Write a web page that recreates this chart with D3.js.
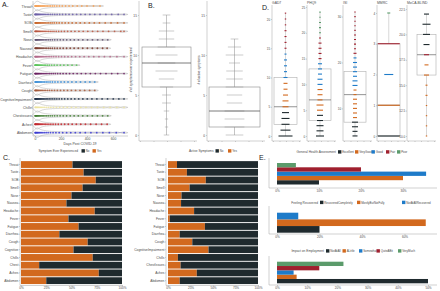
<!DOCTYPE html>
<html><head><meta charset="utf-8">
<script src="https://cdn.jsdelivr.net/npm/d3@7"></script>
<style>body{margin:0;background:#fff}svg{display:block;font-family:"Liberation Sans",Arial,sans-serif}</style>
</head><body>
<svg id="c" width="440" height="291"></svg>
<script>
// ================= DATA =================
// Panel A: days post COVID-19 at which each symptom was reported
const symptomsA = ["Throat","Taste","SOB","Smell","Nose","Nausea","Headache","Fever","Fatigue","Diarrhea","Cough","CognitiveImpairment","Chills","Chestissues","Aches","Abdomen"];
const colorsA = ["#f4a259","#6c5fa7","#c8652a","#b8553f","#5c4d6e","#7a3b2e","#b3688a","#5cc45c","#6a2060","#3f8fd6","#a3583a","#1f3048","#ebe3a0","#3d7a2e","#c1272d","#3a3ad0"];
const daysThroat = [0,3,6,9,12,16,20,25,30,36,42,50,58,66,75,85,96,108,120,135,150,168,188,210,235,262,290,325,360,400,450,500];
const daysTaste = [0,2,5,8,12,15,19,24,29,35,41,48,56,64,73,83,94,106,120,135,152,170,190,212,236,262,290,320,352,386,422,460,500,545,590,640,685];
const daysSOB = [1,4,7,10,14,18,23,28,34,40,47,55,63,72,82,93,105,118,132,148,166,186,208,232,258,286,316,348,382,418,456,496,540,585,635,685];
const daysSmell = [0,3,6,10,13,17,22,27,33,39,46,54,62,71,81,92,104,117,131,146,163,182,203,226,251,278,307,338,371,406,443,482,523,566,612,660,685];
const daysNose = [2,5,9,13,17,22,28,34,41,49,58,68,79,91,104,118,134,152,172,194,218,244,272,302,334,368,404,442,482,520,560];
const daysNausea = [1,4,8,12,16,21,27,33,40,48,57,67,78,90,103,117,133,151,171,193,217,243,271,301,333,367,403,441,480,520,555];
const daysHeadache = [0,3,6,9,13,17,21,26,31,37,44,51,59,68,78,89,101,114,128,144,162,182,204,228,254,282,312,344,378,414,452,492,534,578,630,685];
const daysFever = [0,2,4,7,10,13,17,21,26,31,37,44,52,61,71,82,95,110,128,148,170,195,222,252,285,320];
const daysFatigue = [0,2,4,7,10,13,17,21,25,30,35,41,47,54,62,70,79,89,100,112,125,140,156,174,194,216,240,266,294,324,356,390,426,464,504,546,590,636,685];
const daysDiarrhea = [1,4,8,12,17,22,28,35,43,52,62,73,86,100,116,134,154,176,200,226,254,284,316,350,386,422,460];
const daysCough = [0,3,6,10,14,19,25,32,40,49,59,70,82,96,112,130,150,172,196,222,250,280,312,346,382,420,460];
const daysCognitive = [0,2,5,8,11,15,19,23,28,33,39,45,52,60,68,77,87,98,110,123,137,152,168,186,206,228,252,278,306,336,368,402,438,476,516,558,602,645,685];
const daysChills = [1,4,8,12,17,22,28,35,43,52,62,74,88,104,122,142,165,190,218,248,280,315,352,392,435,480,528,578,630,685];
const daysChest = [0,3,7,11,15,20,26,32,39,47,56,66,77,89,102,117,133,151,171,193,217,243,271,301,333,367,403,441,480,520,560];
const daysAches = [0,2,5,8,12,16,20,25,30,36,43,51,60,70,81,93,107,122,139,158,179,202,228,256,286,318,352,388,428,470,512,555];
const daysAbdomen = [1,3,7,11,16,21,27,34,42,51,61,73,86,101,119,139,161,186,213,243,275,310,347,387,430,475,522,572,625,685];
const daysA = [daysThroat,daysTaste,daysSOB,daysSmell,daysNose,daysNausea,daysHeadache,daysFever,daysFatigue,daysDiarrhea,daysCough,daysCognitive,daysChills,daysChest,daysAches,daysAbdomen];
const daysTicks = [0,200,400,600];

// Panel B: number of symptoms
const everVals = [0,1,2,3,4,5,6,7,8,9,10,11,12,13,14,15];
const everCounts = [5,3,3,5,8,8,12,14,20,16,20,16,14,14,7,7];
const everBox = [0,6,9,11,15];      // min, q1, median, q3, max
const activeVals = [0,1,2,3,4,5,6,7,8,9,10,11,12];
const activeCounts = [16,18,18,18,14,14,16,15,15,10,16,12,7];
const activeBox = [0,1,3,6,12];
const countTicks = [0,5,10,15];

// Panel C: proportion experiencing symptom
const symptomsC = ["Throat","Taste","SOB","Smell","Nose","Nausea","Headache","Fever","Fatigue","Diarrhea","Cough","Cognitive","Chills","Chest","Aches","Abdomen"];
const symptomsCFull = ["Throat","Taste","SOB","Smell","Nose","Nausea","Headache","Fever","Fatigue","Diarrhea","Cough","CognitiveImpairment","Chills","ChestIssues","Aches","Abdomen"];
const everYes = [0.51,0.62,0.74,0.61,0.50,0.45,0.73,0.47,0.57,0.38,0.66,0.52,0.71,0.18,0.77,0.25];
const activeYes = [0.10,0.21,0.42,0.24,0.15,0.145,0.29,0.02,0.41,0.13,0.27,0.45,0.11,0.14,0.32,0.13];
const pctTicks = [0,0.25,0.5,0.75,1];

// Panel D: questionnaire scores
const gadVals = d3.range(0,22);
const gadCounts = [14,10,8,8,7,6,6,5,4,4,4,3,3,3,2,2,2,2,2,1,1,1];
const gadBox = [0,2,5,10,21];
const phqVals = d3.range(0,25);
const phqCounts = [8,7,7,6,6,6,7,5,5,5,5,5,4,4,4,3,3,3,3,2,2,2,2,1,1];
const phqBox = [0,3,7,13,24];
const isiVals = d3.range(4,32);
const isiCounts = [5,5,6,6,4,4,4,4,4,3,3,5,5,4,4,4,4,3,3,2,2,2,2,1,1,1,1,1];
const isiBox = [4,7,13,18,31];
const mmrcVals = [0,1,2,3,4];
const mmrcCounts = [22,22,9,22,3];
const mmrcBox = [0,0,1,3,4];
const mocaVals = d3.range(10,23);
const mocaCounts = [1,1,1,1,2,2,5,4,5,6,7,8,5];
const mocaBox = [10,16,18,20,22];

// Panel E
const healthCats = ["Excellent","VeryGood","Good","Fair","Poor"];
const healthVals = [0.10,0.30,0.355,0.20,0.045];
const recoveredCats = ["RecoveredCompletely","MostlyButNotFully","NotAtAllRecovered"];
const recoveredVals = [0.20,0.70,0.10];
const employCats = ["NotAtAll","ALittle","Somewhat","QuiteABit","VeryMuch"];
const employVals = [0.50,0.065,0.055,0.14,0.22];

// ================= DRAW =================
const svg = d3.select("#c");
const TXT = "#4a4a4a", AX = "#a0a0a0";
const K = "#1f2a2e", O = "#d2691e", B = "#1e7bc9", R = "#a0202e", G = "#5b9b6b";
const pct = d3.format(".0%");

function styleAxis(g, fs) {
  g.attr("font-family", null).attr("font-size", null);
  g.selectAll("path,line").attr("stroke", AX).attr("stroke-width", 0.5);
  g.selectAll("text").attr("font-size", fs).attr("fill", TXT);
  return g;
}
function label(x, y, t) {
  svg.append("text").attr("x", x).attr("y", y).attr("font-size", 7).attr("fill", "#222").text(t);
}
function vline(x, y1, y2) { svg.append("line").attr("x1", x).attr("x2", x).attr("y1", y1).attr("y2", y2).attr("stroke", AX).attr("stroke-width", 0.5); }
function hline(x1, x2, y) { svg.append("line").attr("x1", x1).attr("x2", x2).attr("y1", y).attr("y2", y).attr("stroke", AX).attr("stroke-width", 0.5); }

// ---------- Panel A ----------
label(2, 7, "A.");
const xA = d3.scaleLinear().domain([0, 700]).range([35, 126]);
const yA = d3.scalePoint().domain(symptomsA).range([6, 132.7]);
const gA = svg.append("g");
const epan = u => Math.abs(u) <= 1 ? 0.75 * (1 - u * u) : 0;
symptomsA.forEach((s, i) => {
  const d = daysA[i], y = yA(s), c = colorsA[i];
  const mx = d3.max(d);
  // density (violin)
  const bw = 30;
  const grid = d3.range(-bw, mx + bw, 4);
  const dens = grid.map(x => [x, d3.mean(d, v => epan((x - v) / bw)) / bw]);
  const h = d3.scaleLinear().domain([0, d3.max(dens, e => e[1])]).range([0, 4.8]);
  gA.append("path").datum(dens)
    .attr("d", d3.area().x(e => xA(e[0])).y0(e => y - h(e[1])).y1(e => y + h(e[1])).curve(d3.curveBasis))
    .attr("fill", "none").attr("stroke", "#a8a8a8").attr("stroke-width", 0.5);
  gA.append("line").attr("x1", xA(0)).attr("x2", xA(mx)).attr("y1", y).attr("y2", y)
    .attr("stroke", c).attr("stroke-width", 0.6).attr("opacity", 0.4);
  gA.selectAll(null).data(d).join("circle")
    .attr("cx", v => xA(v)).attr("cy", y).attr("r", 0.9).attr("fill", c).attr("opacity", 0.85);
});
const axAy = svg.append("g").attr("transform", "translate(33,0)").call(d3.axisLeft(yA).tickSize(1).tickPadding(0.6));
axAy.select(".domain").remove();
styleAxis(axAy, 3.4);
vline(33, 1, 136);
const axAx = svg.append("g").attr("transform", "translate(0,136)").call(d3.axisBottom(xA).tickValues(daysTicks).tickSize(1).tickPadding(0.5));
axAx.select(".domain").remove();
styleAxis(axAx, 3.4);
hline(33, 128, 136);
svg.append("text").attr("x", 80).attr("y", 144.5).attr("text-anchor", "middle").attr("font-size", 3.5).attr("fill", TXT).text("Days Post COVID-19");

// ---------- Panel B ----------
label(148, 8, "B.");
const yB = d3.scaleLinear().domain([0, 15]).range([135, 15]);
function boxPlot(g, scale, stats, x0, x1, boxStroke, medStroke) {
  const cx = (x0 + x1) / 2;
  g.append("line").attr("x1", cx).attr("x2", cx).attr("y1", scale(stats[0])).attr("y2", scale(stats[1])).attr("stroke", boxStroke).attr("stroke-width", 0.5);
  g.append("line").attr("x1", cx).attr("x2", cx).attr("y1", scale(stats[3])).attr("y2", scale(stats[4])).attr("stroke", boxStroke).attr("stroke-width", 0.5);
  g.append("rect").attr("x", x0).attr("y", scale(stats[3])).attr("width", x1 - x0).attr("height", scale(stats[1]) - scale(stats[3]))
    .attr("fill", "none").attr("stroke", boxStroke).attr("stroke-width", 0.6);
  g.append("line").attr("x1", x0).attr("x2", x1).attr("y1", scale(stats[2])).attr("y2", scale(stats[2])).attr("stroke", medStroke).attr("stroke-width", 0.8);
}
function dashes(g, scale, vals, counts, cx, maxW, colorFn, unit, sw) {
  g.selectAll(null).data(vals.map((v, i) => [v, counts[i]])).join("line")
    .attr("x1", e => cx - Math.min(maxW, Math.max(1.4, e[1] * unit)) / 2)
    .attr("x2", e => cx + Math.min(maxW, Math.max(1.4, e[1] * unit)) / 2)
    .attr("y1", e => scale(e[0])).attr("y2", e => scale(e[0]))
    .attr("stroke", e => colorFn(e[0])).attr("stroke-width", sw);
}
[[139, everBox, everVals, everCounts, 142, 191, "# of symptoms ever experienced"],
 [207, activeBox, activeVals, activeCounts, 209, 260, "# of active symptoms"]].forEach(p => {
  const [ax, st, vals, counts, b0, b1, title] = p;
  const g = svg.append("g");
  const cx = (b0 + b1) / 2;
  dashes(g, yB, vals, counts, cx, 26, () => "#a9a9a9", 1.1, 0.6);
  boxPlot(g, yB, st, b0, b1, "#8a8a8a", "#5a5a5a");
  const a = svg.append("g").attr("transform", `translate(${ax},0)`).call(d3.axisLeft(yB).tickValues(countTicks).tickSize(1).tickPadding(1));
  a.select(".domain").remove();
  styleAxis(a, 3.3);
  vline(ax, 1, 141);
  const xb = d3.scaleLinear().domain([0, 4]).range([ax + 1, ax + 55]);
  const ab = svg.append("g").attr("transform", "translate(0,141)").call(d3.axisBottom(xb).ticks(5).tickFormat("").tickSize(1));
  ab.select(".domain").remove();
  styleAxis(ab, 3);
  hline(ax, ax + 58, 141);
  svg.append("text").attr("transform", `translate(${ax - 7},70) rotate(-90)`).attr("text-anchor", "middle")
    .attr("font-size", 3.1).attr("fill", TXT).text(title);
});

// ---------- Panel D ----------
label(262, 10, "D.");
const dPanels = [
  {t: "GAD7", ax: 272, b0: 274, b1: 297, dom: [0, 20], rng: [136, 19], ticks: [0,5,10,15,20], fmt: d3.format("d"),
   vals: gadVals, counts: gadCounts, box: gadBox, col: d3.scaleThreshold().domain([5,10,15]).range([K,O,B,R])},
  {t: "PHQ9", ax: 307, b0: 309, b1: 331, dom: [0, 25], rng: [136, 7], ticks: [0,5,10,15,20,25], fmt: d3.format("d"),
   vals: phqVals, counts: phqCounts, box: phqBox, col: d3.scaleThreshold().domain([5,10,15,20]).range([K,O,B,R,G])},
  {t: "ISI", ax: 343, b0: 344, b1: 366, dom: [10, 30], rng: [108.4, 16.6], ticks: [10,20,30], fmt: d3.format("d"),
   vals: isiVals, counts: isiCounts, box: isiBox, col: d3.scaleThreshold().domain([8,15,22]).range([K,O,B,R])},
  {t: "MMRC", ax: 377, b0: 377.5, b1: 400, dom: [0, 4], rng: [136, 13], ticks: [0,1,2,3,4], fmt: d3.format("d"),
   vals: mmrcVals, counts: mmrcCounts, box: mmrcBox, col: d3.scaleThreshold().domain([1,2,3,4]).range([K,O,B,R,G])},
  {t: "MoCA-BLIND", ax: 407, b0: 417, b1: 436, dom: [10, 22.5], rng: [136, 9], ticks: [10,12.5,15,17.5,20,22.5], fmt: d3.format(".1f"),
   vals: mocaVals, counts: mocaCounts, box: mocaBox, col: d3.scaleThreshold().domain([18,19]).range([O,R,K])}
];
dPanels.forEach(p => {
  const y = d3.scaleLinear().domain(p.dom).range(p.rng);
  const g = svg.append("g");
  const cx = (p.b0 + p.b1) / 2;
  boxPlot(g, y, p.box, p.b0, p.b1, "#b0b0b0", "#777");
  dashes(g, y, p.vals, p.counts, cx, p.b1 - p.b0, p.col, 1.0, 1.1);
  const a = svg.append("g").attr("transform", `translate(${p.ax},0)`).call(d3.axisLeft(y).tickValues(p.ticks).tickFormat(p.fmt).tickSize(1).tickPadding(0.8));
  a.select(".domain").remove();
  styleAxis(a, 3.1);
  vline(p.ax, 5, 141);
  const xb = d3.scaleLinear().domain([0, 4]).range([p.ax + 1, p.ax + 27]);
  const ab = svg.append("g").attr("transform", "translate(0,141)").call(d3.axisBottom(xb).ticks(5).tickFormat("").tickSize(1));
  ab.select(".domain").remove();
  styleAxis(ab, 3);
  hline(p.ax, p.ax + 29, 141);
  svg.append("text").attr("x", p.ax).attr("y", 3.8).attr("font-size", 3.4).attr("fill", TXT).text(p.t);
});

// ---------- Panel C ----------
label(3, 159.5, "C.");
const yC = d3.scaleBand().domain(symptomsC).range([160.2, 285]).padding(0.12);
function legend(x, y, title, keys, cols, keyX) {
  svg.append("text").attr("x", x).attr("y", y + 1.2).attr("text-anchor", "end").attr("font-size", 3.2).attr("fill", TXT).text(title);
  keys.forEach((k, i) => {
    svg.append("rect").attr("x", keyX[i]).attr("y", y - 1.8).attr("width", 3.4).attr("height", 3.4).attr("fill", cols[i]);
    svg.append("text").attr("x", keyX[i] + 4.2).attr("y", y + 1.1).attr("font-size", 2.9).attr("fill", TXT).text(k);
  });
}
[[everYes, symptomsC, 20, 21, 122, "Symptom Ever Experienced", 78, [81.5, 92.5]],
 [activeYes, symptomsCFull, 166, 168, 258, "Active Symptoms", 213.5, [215.5, 228]]].forEach(p => {
  const [vals, labs, axX, x0, x1, title, tx, kx] = p;
  const x = d3.scaleLinear().domain([0, 1]).range([x0, x1]);
  const yc = d3.scaleBand().domain(labs).range(yC.range()).padding(0.12);
  const g = svg.append("g");
  g.selectAll(null).data(labs).join("rect")
    .attr("x", x(0)).attr("y", s => yc(s)).attr("height", yc.bandwidth())
    .attr("width", (s, i) => x(vals[i]) - x(0)).attr("fill", O);
  g.selectAll(null).data(labs).join("rect")
    .attr("x", (s, i) => x(vals[i])).attr("y", s => yc(s)).attr("height", yc.bandwidth())
    .attr("width", (s, i) => x(1) - x(vals[i])).attr("fill", K);
  const a = svg.append("g").attr("transform", `translate(${axX},0)`).call(d3.axisLeft(yc).tickSize(1).tickPadding(0.6));
  a.select(".domain").remove();
  styleAxis(a, 3.3);
  vline(axX, 158, 285.5);
  const ab = svg.append("g").attr("transform", "translate(0,285.5)").call(d3.axisBottom(x).tickValues(pctTicks).tickFormat(pct).tickSize(1).tickPadding(0.5));
  ab.select(".domain").remove();
  styleAxis(ab, 3.1);
  hline(axX, x1 + 1, 285.5);
  legend(tx, 151, title, ["No", "Yes"], [K, O], kx);
});

// ---------- Panel E ----------
label(259, 159.5, "E.");
const ePanels = [
  {cats: healthCats, vals: healthVals, cols: [K,O,B,R,G], y0: 163, y1: 184.5, axY: 188, top: 158,
   per: 0.1, perPx: 42, ticks: [0,0.1,0.2,0.3], title: "General Health Assessment", tx: 336, ly: 152, kx: [338,355,371.5,386,397]},
  {cats: recoveredCats, vals: recoveredVals, cols: [K,O,B], y0: 212.7, y1: 232.7, axY: 234, top: 206,
   per: 0.2, perPx: 42.5, ticks: [0,0.2,0.4,0.6], title: "Feeling Recovered", tx: 318, ly: 202.5, kx: [320,357,402]},
  {cats: employCats, vals: employVals, cols: [K,O,B,R,G], y0: 261.7, y1: 283.3, axY: 285, top: 256,
   per: 0.1, perPx: 30.2, ticks: [0,0.1,0.2,0.3,0.4,0.5], title: "Impact on Employment", tx: 324, ly: 251, kx: [326,342.5,359,376.5,398]}
];
ePanels.forEach(p => {
  const x = d3.scaleLinear().domain([0, p.per]).range([277, 277 + p.perPx]);
  const y = d3.scaleBand().domain(p.cats.slice().reverse()).range([p.y0, p.y1]);
  svg.append("g").selectAll(null).data(p.cats).join("rect")
    .attr("x", x(0)).attr("y", c => y(c)).attr("height", y.bandwidth())
    .attr("width", (c, i) => x(p.vals[i]) - x(0)).attr("fill", (c, i) => p.cols[i]);
  vline(269, p.top, p.axY);
  const ab = svg.append("g").attr("transform", `translate(0,${p.axY})`).call(d3.axisBottom(x).tickValues(p.ticks).tickFormat(pct).tickSize(1).tickPadding(0.6));
  ab.select(".domain").remove();
  styleAxis(ab, 3.1);
  hline(269, 437, p.axY);
  legend(p.tx, p.ly, p.title, p.cats, p.cols, p.kx);
});
</script>
</body></html>
